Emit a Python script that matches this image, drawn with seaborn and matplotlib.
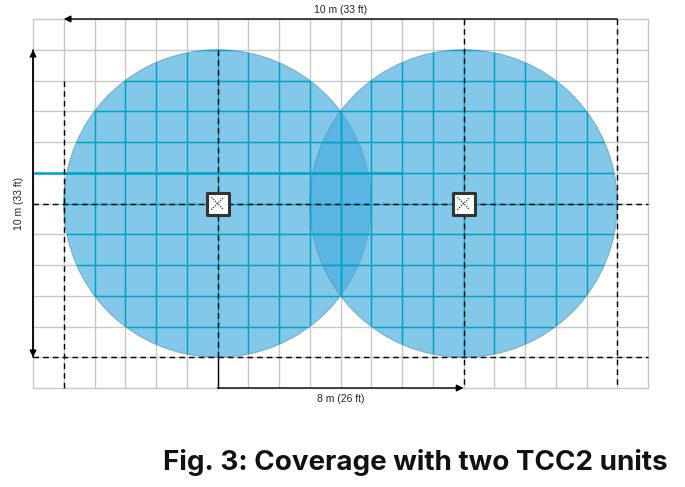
import matplotlib
matplotlib.use("Agg")
import matplotlib.pyplot as plt
import seaborn as sns
import pandas as pd
from matplotlib.patches import Circle

sns.set_style("white")
plt.rcParams['font.family'] = ['Liberation Sans', 'DejaVu Sans']

# data (in metres / grid cells)
unit_x = [6, 14]
unit_y = [6, 6]
radius = [5, 5]
grid_cols = 20
grid_rows = 12
labels = ["10 m (33 ft)", "10 m (33 ft)", "8 m (26 ft)"]
title = "Fig. 3: Coverage with two TCC2 units"

fig = plt.figure(figsize=(6.85, 4.87), dpi=100)
ax = fig.add_axes([0, 0, 1, 1])
u = 30.75
ax.set_xlim(-33 / u, (685 - 33) / u)
ax.set_ylim((487 - 19) / u, -19 / u)
ax.set_axis_off()

# gray grid
for i in range(grid_cols + 1):
    ax.plot([i, i], [0, grid_rows], color="#c8c8c8", lw=1, zorder=1)
for j in range(grid_rows + 1):
    ax.plot([0, grid_cols], [j, j], color="#c8c8c8", lw=1, zorder=1)

# circles
circles = []
for cx, cy, r in zip(unit_x, unit_y, radius):
    c = Circle((cx, cy), r, facecolor="#49addf", alpha=0.68, edgecolor="#5a9ab8", lw=0.8, zorder=2)
    ax.add_patch(c)
    circles.append(Circle((cx, cy), r, transform=ax.transData))

# teal grid inside circles
for clip in circles:
    for i in range(grid_cols + 1):
        l, = ax.plot([i, i], [0, grid_rows], color="#00a3c4", lw=1, zorder=3)
        l.set_clip_path(clip)
    for j in range(grid_rows + 1):
        l, = ax.plot([0, grid_cols], [j, j], color="#00a3c4", lw=1, zorder=3)
        l.set_clip_path(clip)
ax.plot([0, 12], [5, 5], color="#00a3c4", lw=1.8, zorder=3)

# dashed lines
dk = dict(color="black", lw=1, ls=(0, (4, 3)), zorder=4)
ax.plot([1, 1], [2, 12], **dk)
ax.plot([6, 6], [1, 11], **dk)
ax.plot([14, 14], [0, 12], **dk)
ax.plot([19, 19], [0, 12], **dk)
ax.plot([0, 20], [6, 6], **dk)
ax.plot([0, 20], [11, 11], **dk)

# dimension arrows
ak = dict(arrowstyle="-|>", color="black", lw=1, mutation_scale=10, shrinkA=0, shrinkB=0)
ax.annotate("", xy=(1, 0), xytext=(19, 0), arrowprops=ak, zorder=5)
ax.annotate("", xy=(0, 1), xytext=(0, 11), arrowprops=ak, zorder=5)
ax.annotate("", xy=(0, 11), xytext=(0, 1), arrowprops=ak, zorder=5)
ax.annotate("", xy=(14, 12), xytext=(6, 12), arrowprops=ak, zorder=5)
ax.plot([6, 6], [11, 12], color="black", lw=1)
ax.text(10, -0.3, labels[0], ha="center", va="center", fontsize=7.5)
ax.text(-0.45, 6, labels[1], ha="center", va="center", rotation=90, fontsize=7.5)
ax.text(10, 12.35, labels[2], ha="center", va="center", fontsize=7.5)

# unit icons
df = pd.DataFrame({"x": unit_x, "y": unit_y})
sns.scatterplot(data=df, x="x", y="y", marker="s", s=260, color="white",
                edgecolor="#333333", linewidth=2.2, ax=ax, zorder=6, legend=False)
for cx, cy in zip(unit_x, unit_y):
    d = 0.2
    ax.plot([cx - d, cx + d], [cy - d, cy + d], color="#333", lw=0.9, ls=(0, (1, 1)), zorder=7)
    ax.plot([cx - d, cx + d], [cy + d, cy - d], color="#333", lw=0.9, ls=(0, (1, 1)), zorder=7)
ax.set_xlabel(""); ax.set_ylabel("")
ax.set_xlim(-33 / u, (685 - 33) / u)
ax.set_ylim((487 - 19) / u, -19 / u)
ax.set_axis_off()

fig.text(668 / 685, 1 - 463 / 487, title, ha="right", va="center",
         fontsize=20, fontweight="bold", family=["Inter", "DejaVu Sans"], color="#111")

fig.savefig("out.png", dpi=100)
